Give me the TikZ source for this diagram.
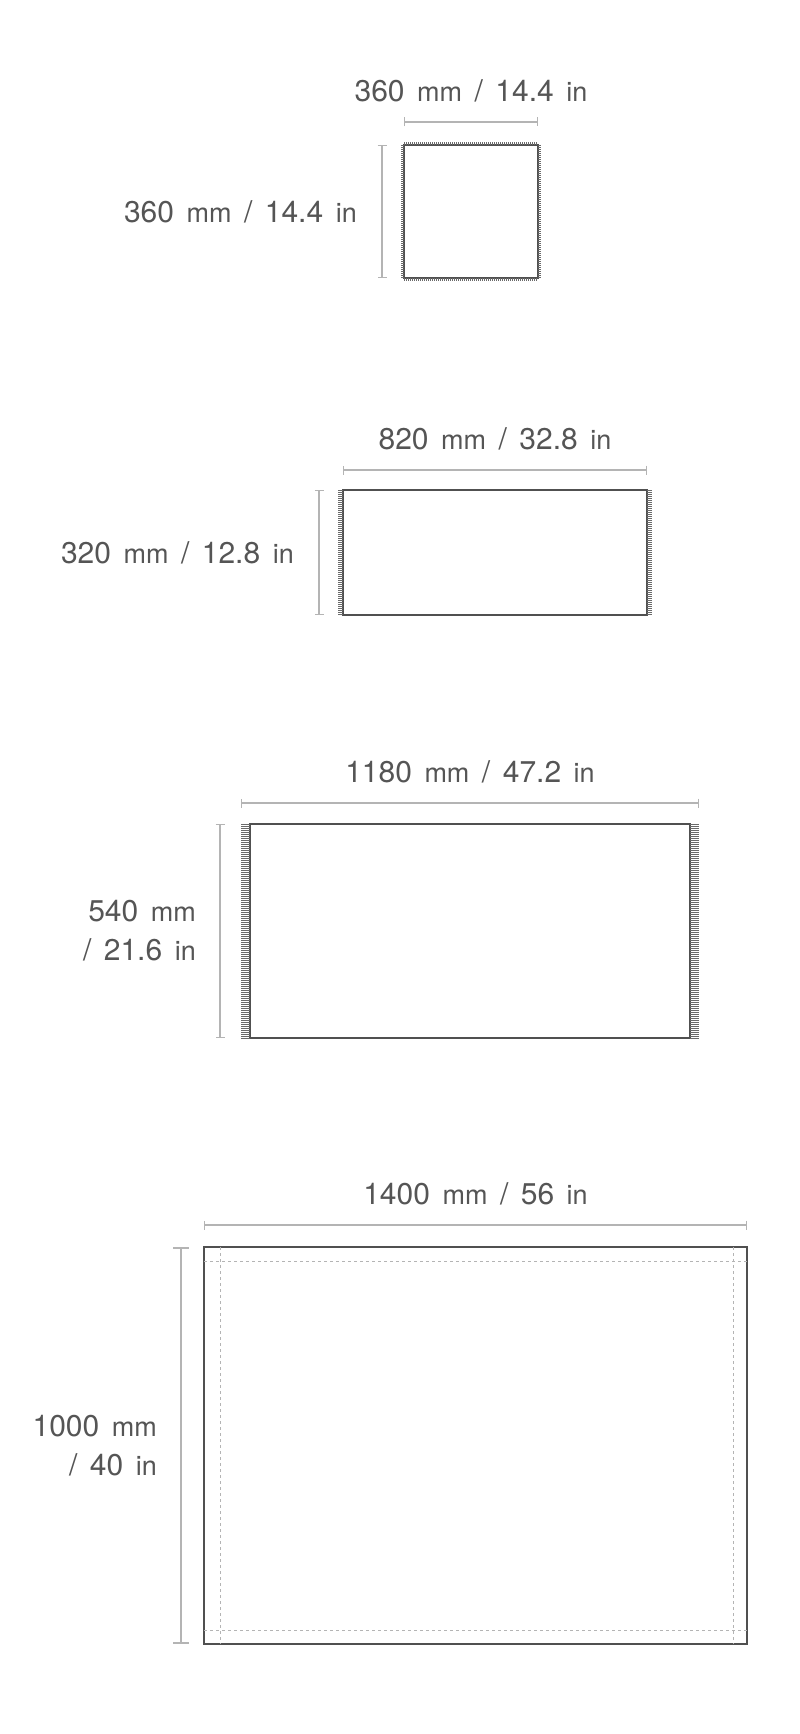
\documentclass[tikz,border=0pt]{standalone}
\usepackage{fontspec}
\setmainfont{TeX Gyre Heros}[WordSpace=1.5]
\usetikzlibrary{arrows.meta,positioning}
\definecolor{rugline}{HTML}{505050}
\definecolor{dimgray}{HTML}{B4B4B4}
\definecolor{txtgray}{HTML}{555555}
\newcommand{\smallu}[1]{{\fontsize{27}{30}\selectfont #1}}

\begin{document}
\begin{tikzpicture}[x=1pt,y=-1pt]
\tikzstyle{rug} = [rectangle, draw=rugline, line width=2pt, inner sep=0pt, outer sep=0pt]
\tikzstyle{dimline} = [draw=dimgray, line width=1.3pt, {Bar[width=9pt]}-{Bar[width=9pt]}]
\tikzstyle{bigdim} = [draw=dimgray, line width=1.8pt, {Bar[width=16pt]}-{Bar[width=16pt]}]
\tikzstyle{dimtext} = [text=txtgray, font=\fontsize{30}{39}\selectfont, inner sep=0pt, align=right]
\tikzstyle{fringe} = [draw=rugline!85, line width=0.5pt]
\tikzstyle{seam} = [draw=dimgray, line width=0.8pt, dash pattern=on 3pt off 3pt]

\useasboundingbox (0,0) rectangle (800,1734);

% 360 x 360
\node (rugA)[rug, minimum width=134pt, minimum height=133pt] at (471,211.5) {};
\foreach \k in {0,2,...,132} {
  \draw[fringe] ([xshift=\k pt]rugA.north west) -- ++(0,-3);
  \draw[fringe] ([xshift=\k pt]rugA.south west) -- ++(0,3);
  \draw[fringe] ([yshift=-\k pt]rugA.north west) -- ++(-3,0);
  \draw[fringe] ([yshift=-\k pt]rugA.north east) -- ++(3,0);
}
\coordinate (aTopL) at ([yshift=23pt]rugA.north west);
\coordinate (aTopR) at ([yshift=23pt]rugA.north east);
\coordinate (aSideT) at ([xshift=-22pt]rugA.north west);
\coordinate (aSideB) at ([xshift=-22pt]rugA.south west);
\draw[dimline] (aTopL) -- (aTopR) coordinate[midway] (aTopM);
\draw[dimline] (aSideT) -- (aSideB) coordinate[midway] (aSideM);
\node (lblAw)[dimtext, above=20pt of aTopM] {360 \smallu{mm} / 14.4 \smallu{in}};
\node (lblAh)[dimtext, left=25pt of aSideM] {360 \smallu{mm} / 14.4 \smallu{in}};

% 820 x 320
\node (rugB)[rug, minimum width=304pt, minimum height=125pt] at (495,552.5) {};
\foreach \k in {0,2,...,124} {
  \draw[fringe] ([yshift=-\k pt]rugB.north west) -- ++(-5,0);
  \draw[fringe] ([yshift=-\k pt]rugB.north east) -- ++(5,0);
}
\coordinate (bTopL) at ([yshift=20pt]rugB.north west);
\coordinate (bTopR) at ([yshift=20pt]rugB.north east);
\coordinate (bSideT) at ([xshift=-24pt]rugB.north west);
\coordinate (bSideB) at ([xshift=-24pt]rugB.south west);
\draw[dimline] (bTopL) -- (bTopR) coordinate[midway] (bTopM);
\draw[dimline] (bSideT) -- (bSideB) coordinate[midway] (bSideM);
\node (lblBw)[dimtext, above=20pt of bTopM] {820 \smallu{mm} / 32.8 \smallu{in}};
\node (lblBh)[dimtext, left=25pt of bSideM] {320 \smallu{mm} / 12.8 \smallu{in}};

% 1180 x 540
\node (rugC)[rug, minimum width=440pt, minimum height=214pt] at (470,931) {};
\foreach \k in {0,2,...,214} {
  \draw[fringe] ([yshift=-\k pt]rugC.north west) -- ++(-9,0);
  \draw[fringe] ([yshift=-\k pt]rugC.north east) -- ++(9,0);
}
\coordinate (cTopL) at ([xshift=-9pt,yshift=21pt]rugC.north west);
\coordinate (cTopR) at ([xshift=9pt,yshift=21pt]rugC.north east);
\coordinate (cSideT) at ([xshift=-30pt]rugC.north west);
\coordinate (cSideB) at ([xshift=-30pt]rugC.south west);
\draw[dimline] (cTopL) -- (cTopR) coordinate[midway] (cTopM);
\draw[dimline] (cSideT) -- (cSideB) coordinate[midway] (cSideM);
\node (lblCw)[dimtext, above=20pt of cTopM] {1180 \smallu{mm} / 47.2 \smallu{in}};
\node (lblCh)[dimtext, left=24pt of cSideM] {540 \smallu{mm}\\ / 21.6 \smallu{in}};

% 1400 x 1000
\node (rugD)[rug, minimum width=543pt, minimum height=397pt] at (475.5,1445.5) {};
\draw[seam] ([xshift=16pt]rugD.north west) -- ([xshift=16pt]rugD.south west);
\draw[seam] ([xshift=-14pt]rugD.north east) -- ([xshift=-14pt]rugD.south east);
\draw[seam] ([yshift=-14pt]rugD.north west) -- ([yshift=-14pt]rugD.north east);
\draw[seam] ([yshift=14pt]rugD.south west) -- ([yshift=14pt]rugD.south east);
\coordinate (dTopL) at ([yshift=22pt]rugD.north west);
\coordinate (dTopR) at ([yshift=22pt]rugD.north east);
\coordinate (dSideT) at ([xshift=-23pt]rugD.north west);
\coordinate (dSideB) at ([xshift=-23pt]rugD.south west);
\draw[dimline] (dTopL) -- (dTopR) coordinate[midway] (dTopM);
\draw[bigdim] (dSideT) -- (dSideB) coordinate[midway] (dSideM);
\node (lblDw)[dimtext, above=20pt of dTopM] {1400 \smallu{mm} / 56 \smallu{in}};
\node (lblDh)[dimtext, left=24pt of dSideM] {1000 \smallu{mm}\\ / 40 \smallu{in}};
\end{tikzpicture}
\end{document}
